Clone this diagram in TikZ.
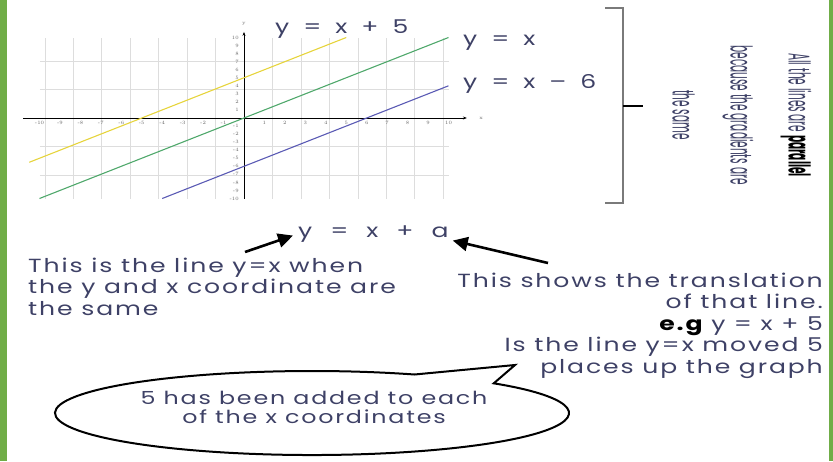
\documentclass[tikz,border=0pt]{standalone}
\usepackage{fontspec}
\newfontfamily\handfont[FakeStretch=1.32,LetterSpace=10]{Poppins}
\newfontfamily\notefont[FakeStretch=0.35]{Poppins}
\usetikzlibrary{arrows.meta}
\definecolor{ink}{HTML}{3E4166}
\definecolor{lineA}{HTML}{E6D43C}
\definecolor{lineB}{HTML}{4FA86B}
\definecolor{lineC}{HTML}{5A5AB4}
\definecolor{border}{HTML}{70AD47}
\definecolor{gridc}{HTML}{DDDDDD}
\definecolor{bracketc}{HTML}{7A7A7A}
\newcommand\eqgap{\hspace{14pt}}

\begin{document}
\begin{tikzpicture}[x=1pt,y=-1pt,
 hand/.style={font=\handfont\fontsize{19}{21.5}\selectfont,text=ink,inner sep=0pt},
 note/.style={font=\notefont\fontsize{30}{58}\selectfont,text=ink,inner sep=0pt},
 tick/.style={font=\fontsize{5}{5}\selectfont,text=black!60,inner sep=0pt},
 arr/.style={-{Triangle[length=15pt,width=14pt]},line width=2.6pt},
 plot/.style={line width=1.1pt}]
\useasboundingbox (0,0) rectangle (833,461);
\fill[border] (0,0) rectangle (7,461);
\fill[border] (829,0) rectangle (833,461);

% the three lines on a grid
\begin{scope}[shift={(244,118)},x=20.45pt,y=8.05pt]
\draw[gridc,line width=.5pt] (-10,-10) grid (10,10);
\draw[line width=.9pt,-{Stealth[length=4pt]}] (-10.8,0) -- (10.9,0);
\draw[line width=.9pt,-{Stealth[length=4pt]}] (0,-10) -- (0,10.7);
\node[tick] (xlab) at (11.6,0) {x};
\node[tick] (ylab) at (0,11.7) {y};
\foreach \k in {-10,...,-1,1,2,...,10} {
  \node[tick] (xt\k) at (\k,-.55) {\k};
  \node[tick,anchor=east] (yt\k) at (-.25,\k) {\k};
}
\draw[plot,lineA] (-10.5,-5.5) -- (5,10);
\draw[plot,lineB] (-10,-10) -- (10,10);
\draw[plot,lineC] (-4,-10) -- (10,4);
\end{scope}

\node[hand,anchor=base west] (eqA) at (275,33) {y\eqgap=\eqgap x\eqgap+\eqgap5};
\node[hand,anchor=base west] (eqB) at (463,45) {y\eqgap=\eqgap x};
\node[hand,anchor=base west] (eqC) at (463,88) {y\eqgap=\eqgap x\eqgap–\eqgap6};

% bracket and note
\draw[bracketc,line width=2.8pt] (605,8) -- (623,8) -- (623,203) -- (605,203);
\draw[line width=1.2pt] (623,106) -- (643,106);
\node[note,rotate=-90,align=center] (para) at (742,115)
 {All the lines are \textbf{\color{black}parallel}\\because the gradients are\\the same};

% general form and notes
\node[hand,anchor=base west] (form) at (298,237)
 {y\eqgap\hspace{4pt}=\eqgap\hspace{4pt}x\eqgap\hspace{4pt}+\eqgap\hspace{4pt}a};
\node[hand,anchor=base west,align=left] (ident) at (28,315)
 {This is the line y=x when\\the y and x coordinate are\\the same};
\node[hand,anchor=base east,align=right] (shift) at (823,373)
 {This shows the translation\\of that line.\\\textbf{\color{black}e.g} y = x + 5\\Is the line y=x moved 5\\places up the graph};
\coordinate (tailL) at (245,252);
\coordinate (tailR) at (548,263);
\draw[arr] (tailL) -- ([xshift=-5pt,yshift=-2pt]form.west);
\draw[arr] (tailR) -- ([xshift=4pt,yshift=-7pt]form.east);

% speech bubble
\draw[line width=2pt] (414.5,374.5)
 arc[start angle=-66.5,end angle=-405,x radius=257,y radius=42]
 -- (515,365) -- cycle;
\node[hand,font=\handfont\fontsize{18}{18.5}\selectfont,anchor=base,align=center] (added) at (314,423)
 {5 has been added to each\\of the x coordinates};
\end{tikzpicture}
\end{document}
